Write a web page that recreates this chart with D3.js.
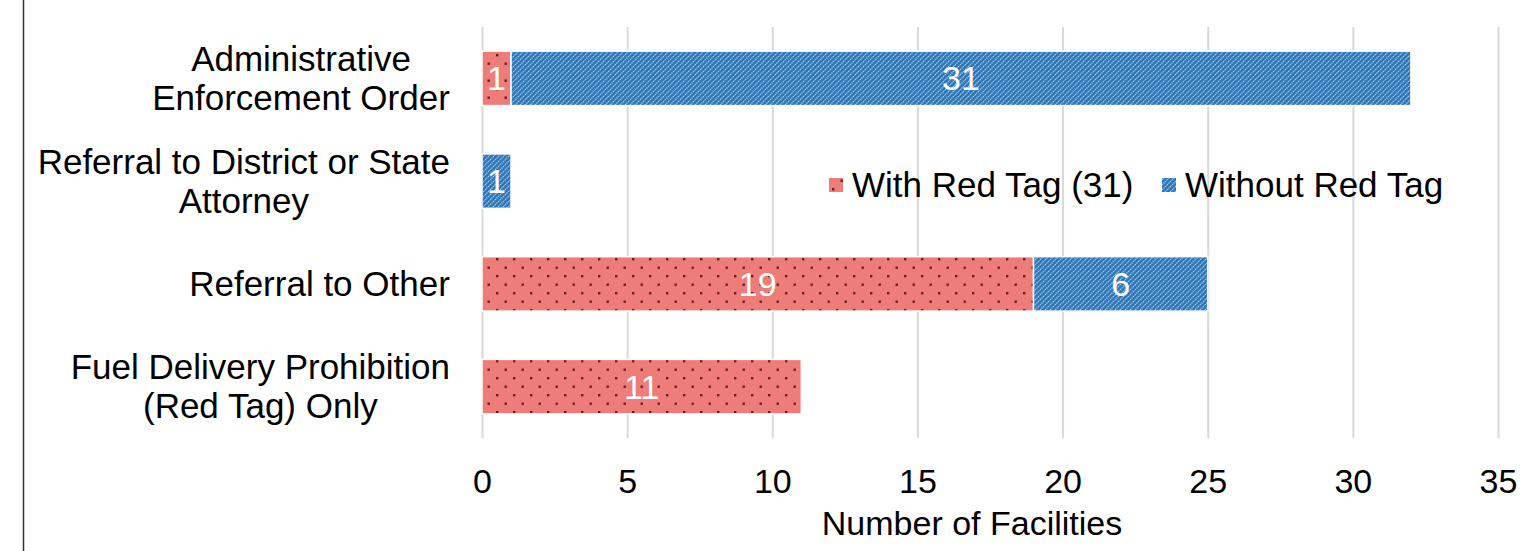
<!DOCTYPE html>
<html>
<head>
<meta charset="utf-8">
<script src="https://cdn.jsdelivr.net/npm/d3@7"></script>
<style>
  body { margin: 0; background: #fff; }
  svg { display: block; font-family: "Liberation Sans", Arial, sans-serif; }
</style>
</head>
<body>
<script>
// * DATA
const categories = [
	["Administrative", "Enforcement Order"],
	["Referral to District or State", "Attorney"],
	["Referral to Other"],
	["Fuel Delivery Prohibition", "(Red Tag) Only"],
];
const withRedTag = [1, 0, 19, 11];
const withoutRedTag = [31, 1, 6, 0];
const seriesNames = ["With Red Tag (31)", "Without Red Tag"];
const xTicks = [0, 5, 10, 15, 20, 25, 30, 35];

const width = 1535;
const height = 551;
const fontSize = 34;
const labelSize = 35;

const rows = categories.map((c, i) => ({
	key: c.join(" "),
	lines: c,
	red: withRedTag[i],
	blue: withoutRedTag[i],
}));

// * SCALES
const x = d3.scaleLinear().domain([0, 35]).range([482, 1498]);
const y = d3
	.scaleBand()
	.domain(rows.map((d) => d.key))
	.range([27, 438])
	.paddingInner(0.47)
	.paddingOuter(0.235);

const svg = d3
	.select("body")
	.append("svg")
	.attr("width", width)
	.attr("height", height)
	.attr("viewBox", [0, 0, width, height]);

// * PATTERNS
const defs = svg.append("defs");
const dots = defs
	.append("pattern")
	.attr("id", "dots")
	.attr("patternUnits", "userSpaceOnUse")
	.attr("width", 17)
	.attr("height", 17);
dots.append("rect").attr("width", 17).attr("height", 17).attr("fill", "#ee7d7a");
dots.append("rect").attr("x", 3).attr("y", 3).attr("width", 2.4).attr("height", 2.4).attr("fill", "#6e1c1c");
dots.append("rect").attr("x", 11.5).attr("y", 11.5).attr("width", 2.4).attr("height", 2.4).attr("fill", "#6e1c1c");

const stripes = defs
	.append("pattern")
	.attr("id", "stripes")
	.attr("patternUnits", "userSpaceOnUse")
	.attr("width", 5)
	.attr("height", 5);
stripes.append("rect").attr("width", 5).attr("height", 5).attr("fill", "#2e75b6");
stripes
	.append("path")
	.attr("d", "M0,5L5,0M-1,1L1,-1M4,6L6,4")
	.attr("stroke", "#9cc6ec")
	.attr("stroke-width", 1.3)
	.attr("stroke-dasharray", "1.4,0.7");

const fills = ["url(#dots)", "url(#stripes)"];

// left frame line
svg.append("line")
	.attr("x1", 23.5)
	.attr("x2", 23.5)
	.attr("y1", 0)
	.attr("y2", height)
	.attr("stroke", "#333")
	.attr("stroke-width", 1.5);

// * AXIS + GRID
svg.append("g")
	.attr("transform", `translate(0,${y.range()[1]})`)
	.call(
		d3
			.axisBottom(x)
			.tickValues(xTicks)
			.tickSize(-(y.range()[1] - y.range()[0]))
			.tickPadding(31)
	)
	.call((g) => g.select(".domain").remove())
	.call((g) => g.selectAll(".tick line").attr("stroke", "#d9d9d9").attr("stroke-width", 2))
	.call((g) =>
		g
			.selectAll(".tick text")
			.attr("fill", "#000")
			.attr("font-size", fontSize)
			.attr("font-family", "Liberation Sans, Arial, sans-serif")
	);

svg.append("text")
	.attr("x", 972)
	.attr("y", 535)
	.attr("text-anchor", "middle")
	.attr("font-size", fontSize)
	.text("Number of Facilities");

// * BARS
const stack = d3.stack().keys(["red", "blue"])(rows);

const layer = svg
	.append("g")
	.selectAll("g")
	.data(stack)
	.join("g")
	.attr("fill", (d, i) => fills[i]);

layer
	.selectAll("rect")
	.data((d) => d.filter((s) => s[1] - s[0] > 0))
	.join("rect")
	.attr("x", (d) => x(d[0]))
	.attr("y", (d) => y(d.data.key))
	.attr("width", (d) => x(d[1]) - x(d[0]))
	.attr("height", y.bandwidth())
	.attr("stroke", "#fff")
	.attr("stroke-width", 1.5);

layer
	.selectAll("text")
	.data((d) => d.filter((s) => s[1] - s[0] > 0))
	.join("text")
	.attr("x", (d) => (x(d[0]) + x(d[1])) / 2)
	.attr("y", (d) => y(d.data.key) + y.bandwidth() / 2)
	.attr("dy", "0.35em")
	.attr("text-anchor", "middle")
	.attr("fill", "#fff")
	.attr("font-size", fontSize)
	.text((d) => d[1] - d[0]);

// * CATEGORY LABELS
const lineH = 39;
const labels = svg
	.append("g")
	.attr("class", "cat-labels")
	.selectAll("text")
	.data(rows)
	.join("text")
	.attr("text-anchor", "middle")
	.attr("font-size", labelSize)
	.attr("fill", "#000")
	.each(function (d) {
		const t = d3.select(this);
		const cy = y(d.key) + y.bandwidth() / 2;
		const n = d.lines.length;
		d.lines.forEach((line, i) => {
			t.append("tspan")
				.attr("x", 0)
				.attr("y", cy + (i - (n - 1) / 2) * lineH)
				.attr("dy", "0.35em")
				.text(line);
		});
	});

// right-align each label block at x=450, lines centred within the block
labels.each(function () {
	const bb = this.getBBox();
	d3.select(this).attr("transform", `translate(${450 - bb.width / 2},0)`);
});

// * LEGEND
const legend = svg
	.append("g")
	.selectAll("g")
	.data(seriesNames)
	.join("g")
	.attr("transform", (d, i) => `translate(${[829, 1162][i]},185)`);
legend
	.append("rect")
	.attr("x", 0)
	.attr("y", -7)
	.attr("width", 14)
	.attr("height", 14)
	.attr("fill", (d, i) => fills[i]);
legend
	.append("text")
	.attr("x", 23)
	.attr("dy", "0.35em")
	.attr("font-size", labelSize)
	.text((d) => d);
</script>
</body>
</html>
